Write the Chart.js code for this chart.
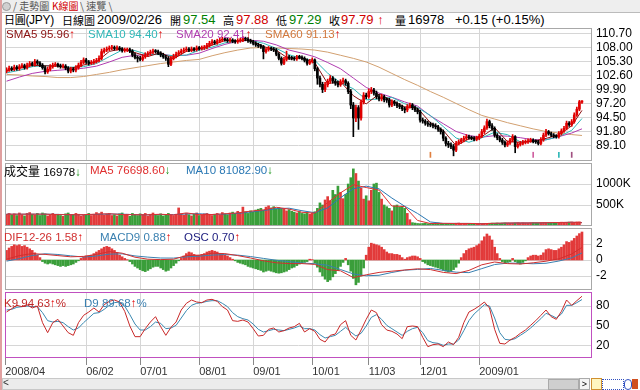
<!DOCTYPE html>
<html>
<head>
<meta charset="utf-8">
<script src="https://cdn.jsdelivr.net/npm/chart.js@4.4.1/dist/chart.umd.min.js"></script>
<style>
  body { margin: 0; width: 640px; height: 390px; overflow: hidden; background: #fff; position: relative;
         font-family: 'Liberation Sans', Arial, 'Noto Sans CJK TC', sans-serif; }
  .abs { position: absolute; white-space: nowrap; }
  canvas { position: absolute; left: 5px; }
  .hd { top: 12px; font-size: 13px; line-height: 15px; }
  .cjk { font-family: 'Noto Sans CJK TC', sans-serif; font-size: 12px; }
  .hd.cjk, .hd .cjk { font-size: 11px; }
  .lg { font-size: 11.5px; line-height: 13px; }
  .tab { top: 0; font-size: 10px; line-height: 12px; color: #555; font-family: 'Noto Sans CJK TC', sans-serif; }
  .up { color: #e00000; font-weight: bold; }
  .dn { color: #109010; font-weight: bold; }
</style>
</head>
<body>
<!-- tab bar -->
<div class="abs" style="left:0;top:0;width:640px;height:12px;background:#eeeeee;border-bottom:1px solid #bbb"></div>
<div class="abs" style="left:2px;top:2px;width:7px;height:7px;border-radius:50%;background:#d0d0d0;border:1px solid #999"></div>
<div class="abs tab" style="left:13px">/ 走勢圖 /</div>
<div class="abs tab" style="left:50px;color:#d00000;background:#fff;padding:0 2px">K線圖</div>
<div class="abs tab" style="left:80px">\ 速覽 \</div>

<!-- header -->
<div class="abs hd" style="left:4px;font-size:12px;letter-spacing:-0.3px"><span class="cjk">日圓</span>(JPY)</div>
<div class="abs hd cjk" style="left:62px;top:13px">日線圖</div>
<div class="abs hd" style="left:97px">2009/02/26</div>
<div class="abs hd cjk" style="left:170px;top:13px">開</div>
<div class="abs hd" style="left:183px;color:#008000">97.54</div>
<div class="abs hd cjk" style="left:223px;top:13px">高</div>
<div class="abs hd" style="left:236px;color:#d00000">97.88</div>
<div class="abs hd cjk" style="left:276px;top:13px">低</div>
<div class="abs hd" style="left:289px;color:#008000">97.29</div>
<div class="abs hd cjk" style="left:329px;top:13px">收</div>
<div class="abs hd" style="left:341px;color:#d00000">97.79 <span class="up">↑</span></div>
<div class="abs hd cjk" style="left:395px;top:13px">量</div>
<div class="abs hd" style="left:408px">16978</div>
<div class="abs hd" style="left:455px">+0.15 (+0.15%)</div>

<canvas id="priceChart" width="635" height="133" style="top:28px;width:635px;height:133px"></canvas>
<canvas id="volumeChart" width="635" height="63" style="top:163px;width:635px;height:63px"></canvas>
<canvas id="macdChart" width="635" height="62" style="top:228px;width:635px;height:62px"></canvas>
<canvas id="kdChart" width="635" height="86" style="top:292px;width:635px;height:86px"></canvas>

<!-- legends -->
<div class="abs lg" style="left:6px;top:28px;color:#8b1010">SMA5 95.96<span class="up">↑</span></div>
<div class="abs lg" style="left:88px;top:28px;color:#30b8b8">SMA10 94.40<span class="up">↑</span></div>
<div class="abs lg" style="left:176px;top:28px;color:#b03cb0">SMA20 92.41<span class="up">↑</span></div>
<div class="abs lg" style="left:265px;top:28px;color:#d2783c">SMA60 91.13<span class="up">↑</span></div>

<div class="abs lg" style="left:4px;top:164px;color:#000"><span class="cjk">成交量</span> 16978<span class="dn">↓</span></div>
<div class="abs lg" style="left:90px;top:164px;color:#e03030">MA5 76698.60<span class="dn">↓</span></div>
<div class="abs lg" style="left:186px;top:164px;color:#2a78b4">MA10 81082.90<span class="dn">↓</span></div>

<div class="abs lg" style="left:4px;top:231px;color:#d03030">DIF12-26 1.58<span class="up">↑</span></div>
<div class="abs lg" style="left:100px;top:231px;color:#3a80b0">MACD9 0.88<span class="up">↑</span></div>
<div class="abs lg" style="left:184px;top:231px;color:#202080">OSC 0.70<span class="up">↑</span></div>

<div class="abs lg" style="left:4px;top:297px;color:#c02828">K9 94.63<span class="up">↑</span>%</div>
<div class="abs lg" style="left:84px;top:297px;color:#3a80b0">D9 89.68<span class="up">↑</span>%</div>

<!-- scrollbar -->
<div class="abs" style="left:2px;top:378px;width:586px;height:10px;background:#ececec;border:1px solid #c8c8c8"></div>
<div class="abs" style="left:3px;top:377px;font-size:10px;line-height:12px;color:#333">&lt;</div>
<div class="abs" style="left:548px;top:379px;width:29px;height:9px;background:#cfcfcf;border:1px solid #aaa"></div>
<div class="abs" style="left:579px;top:378px;width:9px;height:10px;background:#f4f4f4;border:1px solid #aaa;font-size:9px;line-height:10px;text-align:center">&gt;</div>
<div class="abs" style="left:591px;top:378px;width:9px;height:10px;background:#fff6c0;border:1px solid #d09030"></div>
<div class="abs" style="left:602px;top:379px;width:20px;height:9px;border:1px dotted #3050c0"></div>
<div class="abs" style="left:624px;top:379px;width:6px;height:9px;border:1px solid #3050c0;border-radius:4px"></div>
<div class="abs" style="left:632px;top:379px;width:6px;height:10px;background:#d05020"></div>
<div class="abs" style="left:0;top:0;width:2px;height:390px;background:#e0a0a0"></div>

<script>
// 日圓(JPY) 日線圖, 2008/04 ~ 2009/02/26, one entry per trading day
const monthDays = [-0.5, 31, 52, 75, 96, 119, 141, 161, 184];
const monthLabels = ['2008/04', '06/02', '07/01', '08/01', '09/01', '10/01', '11/03', '12/01', '2009/01'];
const priceTicks = [89.10, 91.80, 94.50, 97.20, 99.90, 102.60, 105.30, 108.00, 110.70];
const volumeTicks = [500, 1000];
const macdTicks = [-2, 0, 2];
const kdTicks = [20, 50, 80];

const opens = [
  103.5, 103.8, 104.1, 103.9, 104.3, 104.0, 104.4, 104.6, 104.2, 104.7,
  105.0, 104.8, 105.4, 105.1, 104.7, 104.2, 103.4, 103.9, 104.4, 104.7,
  104.85, 104.6, 104.4, 104.5, 104.1, 103.55, 103.9, 103.75, 104.2, 104.7,
  105.2, 105.7, 105.3, 105.05, 105.2, 105.4, 105.6, 106.0, 107.3, 107.6,
  107.8, 108.0, 108.1, 107.9, 108.0, 107.8, 107.5, 107.6, 107.7, 107.4,
  106.65, 106.2, 106.0, 105.8, 106.3, 106.7, 106.95, 107.2, 107.4, 107.3,
  107.0, 106.65, 106.3, 106.0, 104.85, 106.0, 106.4, 106.8, 107.1, 107.4,
  107.6, 107.8, 107.6, 107.8, 107.7, 108.0, 107.9, 108.0, 108.1, 108.5,
  108.9, 109.2, 109.0, 109.35, 109.5, 109.7, 109.6, 109.4, 109.55, 109.3,
  109.2, 109.4, 109.55, 109.8, 109.7, 109.4, 109.2, 108.9, 108.6, 108.4,
  108.25, 107.3, 107.7, 107.95, 107.8, 107.6, 106.8, 106.0, 105.05, 105.8,
  106.3, 106.1, 106.0, 105.9, 106.3, 106.2, 106.0, 105.6, 105.05, 105.4,
  105.7, 104.0, 102.2, 101.0, 100.0, 100.9, 101.6, 102.2, 101.6, 101.2,
  100.9, 101.5, 101.7, 101.2, 99.6, 97.0, 94.5, 96.5, 94.5, 97.6,
  98.9, 98.6, 99.6, 99.9, 99.3, 98.6, 98.2, 98.6, 98.0, 97.95,
  97.0, 97.6, 97.3, 96.9, 96.7, 96.3, 96.05, 96.7, 97.0, 96.5,
  96.05, 95.7, 94.1, 93.9, 93.5, 93.3, 93.15, 93.0, 92.8, 92.3,
  91.85, 90.6, 89.6, 89.3, 89.0, 88.3, 89.6, 89.9, 90.25, 90.6,
  90.9, 90.7, 90.6, 90.4, 90.6, 91.0, 91.85, 92.6, 93.8, 93.0,
  92.5, 91.2, 90.7, 90.25, 89.8, 89.3, 89.7, 90.25, 90.9, 89.0,
  89.4, 89.6, 89.8, 89.9, 90.1, 90.25, 90.0, 89.9, 89.6, 90.3,
  91.2, 91.85, 91.5, 91.2, 91.0, 90.9, 91.55, 92.0, 92.5, 93.5,
  93.2, 93.8, 95.1, 96.2, 97.54
];
const highs = [
  104.2, 104.5, 104.4, 104.7, 104.6, 104.8, 105.0, 104.9, 105.1, 105.4,
  105.3, 105.8, 105.7, 105.4, 105.0, 104.5, 104.3, 104.8, 105.1, 105.2,
  105.1, 104.9, 104.9, 104.8, 104.4, 104.3, 104.2, 104.6, 105.1, 105.6,
  106.1, 106.0, 105.6, 105.6, 105.8, 106.0, 106.5, 107.8, 108.0, 108.2,
  108.4, 108.5, 108.4, 108.4, 108.3, 108.1, 108.0, 108.0, 108.0, 107.7,
  107.0, 106.5, 106.4, 106.7, 107.1, 107.3, 107.6, 107.8, 107.7, 107.6,
  107.3, 107.0, 106.6, 106.3, 106.4, 106.8, 107.2, 107.5, 107.8, 108.0,
  108.2, 108.1, 108.2, 108.1, 108.4, 108.3, 108.4, 108.5, 108.9, 109.3,
  109.6, 109.5, 109.7, 109.9, 110.1, 110.0, 109.9, 109.9, 109.8, 109.6,
  109.8, 109.9, 110.2, 110.1, 110.0, 109.7, 109.5, 109.2, 108.9, 108.7,
  108.5, 108.0, 108.3, 108.2, 108.1, 107.9, 107.1, 106.3, 106.2, 107.4,
  106.6, 106.4, 106.3, 106.6, 106.6, 106.5, 106.3, 105.9, 105.8, 106.1,
  105.9, 104.3, 102.6, 101.4, 101.4, 102.0, 102.7, 102.5, 102.0, 101.6,
  101.9, 102.2, 102.0, 101.5, 100.0, 97.5, 97.0, 96.9, 98.0, 99.4,
  99.3, 100.1, 100.4, 100.2, 99.7, 99.0, 99.1, 98.9, 98.4, 98.3,
  98.0, 97.9, 97.6, 97.3, 97.0, 96.6, 97.1, 97.4, 97.3, 96.8,
  96.4, 96.0, 94.5, 94.2, 93.9, 93.7, 93.5, 93.4, 93.1, 92.6,
  92.2, 90.9, 90.0, 89.7, 89.4, 90.0, 90.3, 90.6, 91.0, 91.3,
  91.2, 91.0, 90.9, 91.0, 91.4, 92.3, 93.0, 94.3, 94.1, 93.4,
  92.8, 91.5, 91.0, 90.6, 90.1, 90.1, 90.6, 91.3, 91.1, 89.8,
  90.0, 90.2, 90.3, 90.5, 90.6, 90.5, 90.3, 90.2, 90.7, 91.6,
  92.3, 92.1, 91.8, 91.5, 91.3, 91.9, 92.4, 92.9, 93.9, 93.8,
  94.2, 95.5, 96.6, 97.9, 97.88
];
const lows = [
  103.2, 103.5, 103.6, 103.6, 103.7, 103.7, 104.1, 103.9, 103.9, 104.4,
  104.5, 104.5, 104.8, 104.4, 103.9, 103.0, 103.1, 103.6, 104.1, 104.4,
  104.3, 104.1, 104.1, 103.8, 103.2, 103.2, 103.4, 103.4, 103.9, 104.4,
  104.9, 105.0, 104.7, 104.8, 104.9, 105.1, 105.3, 105.7, 107.0, 107.3,
  107.5, 107.7, 107.6, 107.6, 107.5, 107.2, 107.2, 107.3, 107.1, 106.3,
  105.9, 105.3, 105.5, 105.5, 106.0, 106.4, 106.6, 106.9, 107.0, 106.7,
  106.3, 106.0, 105.6, 104.4, 104.6, 105.7, 106.1, 106.5, 106.8, 107.1,
  107.3, 107.3, 107.3, 107.4, 107.4, 107.6, 107.6, 107.7, 107.8, 108.2,
  108.6, 108.7, 108.7, 109.0, 109.2, 109.3, 109.1, 109.1, 109.0, 108.9,
  108.9, 109.1, 109.2, 109.4, 109.1, 108.9, 108.6, 108.3, 108.1, 107.9,
  105.9, 107.0, 107.4, 107.5, 107.3, 106.5, 105.7, 104.7, 104.8, 105.5,
  105.8, 105.7, 105.6, 105.6, 105.9, 105.7, 105.3, 104.7, 104.8, 105.1,
  103.6, 101.0, 100.5, 99.4, 99.6, 100.5, 101.2, 101.2, 100.8, 100.5,
  100.6, 101.1, 100.8, 99.2, 96.3, 90.9, 93.8, 92.3, 94.1, 97.2,
  98.2, 98.3, 99.2, 98.9, 98.2, 97.8, 97.8, 97.6, 97.5, 96.6,
  96.7, 96.9, 96.5, 96.3, 95.9, 95.5, 95.7, 96.4, 96.1, 95.7,
  95.3, 93.7, 93.5, 93.1, 92.9, 92.8, 92.6, 92.4, 91.9, 91.4,
  90.1, 89.1, 88.8, 88.6, 87.2, 88.0, 89.3, 89.6, 89.9, 90.3,
  90.4, 90.3, 90.1, 90.1, 90.3, 90.7, 91.5, 92.3, 92.6, 92.1,
  90.8, 90.3, 89.9, 89.4, 88.9, 89.0, 89.4, 89.9, 87.8, 88.7,
  89.1, 89.3, 89.5, 89.6, 89.8, 89.7, 89.6, 89.3, 89.3, 90.0,
  90.9, 91.2, 90.9, 90.7, 90.6, 90.6, 91.2, 91.7, 92.2, 92.9,
  92.9, 93.5, 94.8, 95.9, 97.29
];
const closes = [
  103.8, 104.1, 103.9, 104.3, 104.0, 104.4, 104.6, 104.2, 104.7, 105.0,
  104.8, 105.4, 105.1, 104.7, 104.2, 103.4, 103.9, 104.4, 104.7, 104.85,
  104.6, 104.4, 104.5, 104.1, 103.55, 103.9, 103.75, 104.2, 104.7, 105.2,
  105.7, 105.3, 105.05, 105.2, 105.4, 105.6, 106.0, 107.3, 107.6, 107.8,
  108.0, 108.1, 107.9, 108.0, 107.8, 107.5, 107.6, 107.7, 107.4, 106.65,
  106.2, 106.0, 105.8, 106.3, 106.7, 106.95, 107.2, 107.4, 107.3, 107.0,
  106.65, 106.3, 106.0, 104.85, 106.0, 106.4, 106.8, 107.1, 107.4, 107.6,
  107.8, 107.6, 107.8, 107.7, 108.0, 107.9, 108.0, 108.1, 108.5, 108.9,
  109.2, 109.0, 109.35, 109.5, 109.7, 109.6, 109.4, 109.55, 109.3, 109.2,
  109.4, 109.55, 109.8, 109.7, 109.4, 109.2, 108.9, 108.6, 108.4, 108.25,
  107.3, 107.7, 107.95, 107.8, 107.6, 106.8, 106.0, 105.05, 105.8, 106.3,
  106.1, 106.0, 105.9, 106.3, 106.2, 106.0, 105.6, 105.05, 105.4, 105.7,
  104.0, 102.2, 101.0, 100.0, 100.9, 101.6, 102.2, 101.6, 101.2, 100.9,
  101.5, 101.7, 101.2, 99.6, 97.0, 94.5, 96.5, 94.5, 97.6, 98.9,
  98.6, 99.6, 99.9, 99.3, 98.6, 98.2, 98.6, 98.0, 97.95, 97.0,
  97.6, 97.3, 96.9, 96.7, 96.3, 96.05, 96.7, 97.0, 96.5, 96.05,
  95.7, 94.1, 93.9, 93.5, 93.3, 93.15, 93.0, 92.8, 92.3, 91.85,
  90.6, 89.6, 89.3, 89.0, 88.3, 89.6, 89.9, 90.25, 90.6, 90.9,
  90.7, 90.6, 90.4, 90.6, 91.0, 91.85, 92.6, 93.8, 93.0, 92.5,
  91.2, 90.7, 90.25, 89.8, 89.3, 89.7, 90.25, 90.9, 89.0, 89.4,
  89.6, 89.8, 89.9, 90.1, 90.25, 90.0, 89.9, 89.6, 90.3, 91.2,
  91.85, 91.5, 91.2, 91.0, 90.9, 91.55, 92.0, 92.5, 93.5, 93.2,
  93.8, 95.1, 96.2, 97.64, 97.79
];
// volume in K
const volumes = [
  280, 300, 260, 290, 250, 310, 270, 240, 300, 320, 280, 260, 300, 250, 310, 290, 240, 270, 300, 260,
  280, 250, 230, 290, 310, 270, 260, 300, 280, 240, 270,
  260, 300, 250, 280, 320, 290, 330, 260, 280, 300, 250, 270, 240, 290, 310, 260, 280, 230, 300, 270,
  250, 290, 260, 300, 240, 280, 310, 270, 250, 290,
  240, 260, 300, 270, 250, 280, 430, 290, 260, 300, 270, 240, 280, 310, 250, 260, 290, 300, 270, 250,
  280, 300, 260, 320, 290, 270, 310, 330, 300, 350,
  320, 450, 340, 300, 360, 330, 380, 400, 420, 380, 450, 480, 430, 460, 410, 440, 420, 400, 360, 390,
  350, 330, 310, 340, 300, 290, 320, 280, 300, 340,
  420, 550, 500, 620, 700, 600, 850, 750, 950, 800, 650, 750, 1000, 1150, 1360, 1250, 1070, 900, 640, 720,
  600, 850, 1000, 1020, 800, 640, 500, 460, 420, 360,
  480, 500, 450, 470, 420, 300, 150, 80, 70, 60, 55, 60, 65, 55, 60, 58, 62, 70, 65, 60,
  55, 58, 62, 60, 65, 70, 62, 58, 60, 55, 52, 58, 50, 55, 60, 62, 58, 65, 70, 68,
  72, 66, 70, 75, 72, 68, 70, 74, 78, 72, 76, 70, 68, 74, 80, 76, 72, 78, 82, 80,
  76, 84, 88, 86, 82, 90, 85, 88, 92, 95, 90, 98, 100, 17
];

// small cross signals under the candles
const signalDays = [165, 205, 215, 220];
const signalColors = ['#e08040', '#d060a0', '#30b8b8', '#a05080'];

// moving averages read every 5 days
const lineDays = [0, 5, 10, 15, 20, 25, 30, 35, 40, 45, 50, 55, 60, 65, 70, 75, 80, 85, 90, 95, 100, 105, 110, 115, 120,
  125, 130, 135, 140, 145, 150, 155, 160, 165, 170, 175, 180, 185, 190, 195, 200, 205, 210, 215, 220, 224];
const sma5 = [103.6, 104.14, 104.66, 104.56, 104.49, 104.09, 104.71, 105.31, 107.34, 107.86, 107.11, 106.35, 107.11,
  105.91, 107.34, 107.8, 108.54, 109.43, 109.37, 109.53, 108.29, 107.57, 105.85, 106.08, 105.15, 101.14, 101.48,
  98.8, 97.22, 99.12, 97.83, 96.65, 96.39, 93.59, 92.11, 89.16, 90.47, 90.89, 92.62, 89.95, 89.83, 90.01, 90.57,
  91.23, 93.0, 95.96];
const sma10 = [103.2, 103.7, 104.4, 104.61, 104.53, 104.29, 104.4, 105.01, 106.33, 107.6, 107.49, 106.73, 106.73,
  106.51, 106.63, 107.57, 108.17, 108.99, 109.4, 109.45, 108.91, 107.93, 106.71, 105.97, 105.62, 103.15, 101.31,
  100.14, 98.01, 98.17, 98.48, 97.24, 96.52, 94.99, 92.85, 90.64, 89.82, 90.68, 91.76, 91.29, 89.89, 89.92, 90.29,
  90.9, 92.12, 94.40];
const sma20 = [101.6, 102.4, 103.1, 103.5, 103.7, 103.9, 104.1, 104.5, 105.3, 106.2, 106.6, 106.7, 106.8, 106.5,
  106.6, 107.0, 107.9, 108.7, 109.3, 109.5, 109.3, 108.6, 107.6, 107.0, 106.3, 105.2, 104.0, 102.2, 100.4, 99.3,
  98.5, 97.6, 96.8, 94.9, 93.4, 91.9, 91.1, 90.8, 91.1, 91.0, 90.7, 90.3, 90.3, 90.9, 91.6, 92.41];
const sma60 = [102.9, 102.8, 102.6, 102.5, 102.3, 102.3, 102.5, 102.9, 103.3, 103.8, 104.2, 104.6, 105.0, 105.3,
  105.6, 105.8, 106.5, 107.1, 107.6, 108.0, 108.1, 108.0, 107.9, 107.8, 107.6, 107.2, 106.6, 106.0, 105.3, 104.3,
  103.1, 101.9, 100.8, 99.6, 98.5, 97.3, 96.1, 95.0, 94.3, 93.6, 93.0, 92.4, 91.9, 91.6, 91.3, 91.13];
const volMa5 = [280, 282, 282, 282, 270, 270, 270, 282, 292, 272, 268, 268, 280, 264, 312, 270, 274, 290, 312, 354,
  382, 446, 402, 326, 306, 558, 790, 982, 916, 854, 476, 464, 132, 59, 63, 60, 61, 55, 65, 71, 72, 74, 78, 83, 90, 76.7];
const volMa10 = [280, 281, 282, 282, 276, 270, 270, 276, 287, 282, 270, 268, 274, 272, 288, 291, 272, 282, 301, 333,
  368, 414, 424, 364, 316, 432, 674, 886, 949, 885, 665, 470, 298, 96, 61, 62, 61, 58, 60, 68, 72, 73, 76, 81, 87, 81.1];
const dif = [0.10, 0.55, 0.80, 0.70, 0.55, 0.40, 0.45, 0.70, 1.05, 0.85, 0.35, 0.10, 0.05, 0.10, 0.55, 0.60, 0.85,
  0.80, 0.55, 0.25, -0.10, -0.35, -0.45, -0.45, -0.55, -1.20, -1.35, -2.20, -1.85, -1.55, -1.40, -1.25, -1.10,
  -1.20, -1.55, -1.70, -1.30, -0.60, -0.25, -0.45, -0.50, -0.35, -0.15, 0.15, 0.75, 1.58];
const macd9 = [-0.14, 0.17, 0.56, 0.78, 0.69, 0.52, 0.37, 0.50, 0.73, 0.77, 0.51, 0.36, 0.25, 0.24, 0.39, 0.48, 0.61,
  0.68, 0.61, 0.43, 0.20, -0.03, -0.21, -0.37, -0.47, -0.66, -1.19, -1.74, -1.97, -1.91, -1.56, -1.27, -1.18,
  -1.06, -1.29, -1.52, -1.58, -1.08, -0.57, -0.39, -0.40, -0.47, -0.41, -0.13, 0.27, 0.88];
// OSC per day
const osc = [
  0.24, 0.30, 0.34, 0.38, 0.36, 0.38, 0.34, 0.36, 0.32, 0.28, 0.24, 0.18, 0.12, 0.06,
  -0.04, -0.08, -0.10, -0.08, -0.10, -0.12, -0.14, -0.16, -0.14, -0.16, -0.14, -0.12, -0.10, -0.06, -0.02,
  0.04, 0.08, 0.10, 0.10, 0.12, 0.16, 0.20, 0.24, 0.28, 0.32, 0.34, 0.32, 0.28, 0.24, 0.18, 0.12, 0.08,
  0.04, 0.01,
  -0.04, -0.10, -0.16, -0.20, -0.24, -0.27, -0.29, -0.26, -0.22, -0.18, -0.16, -0.16, -0.20, -0.24, -0.28, -0.26,
  -0.20, -0.14, -0.08, -0.02,
  0.04, 0.10, 0.16, 0.20, 0.18, 0.14, 0.12, 0.12, 0.14, 0.16, 0.20, 0.22, 0.24, 0.22, 0.20, 0.16, 0.14, 0.12,
  0.10, 0.06, 0.02,
  -0.02, -0.06, -0.08, -0.10, -0.12, -0.16, -0.18, -0.20, -0.22, -0.24, -0.26, -0.30, -0.28, -0.26, -0.28, -0.30,
  -0.32, -0.33, -0.32, -0.30, -0.28, -0.24, -0.20, -0.18, -0.14, -0.10, -0.08, -0.06, -0.04, 0.02,
  0.01,
  -0.08, -0.18, -0.30, -0.40, -0.48, -0.54, -0.50, -0.42, -0.34, -0.26, -0.16, -0.06,
  0.04,
  -0.12, -0.28, -0.46, -0.62, -0.56, -0.40, -0.20,
  0.12, 0.32, 0.42, 0.40, 0.38, 0.36, 0.32, 0.26, 0.20, 0.16, 0.16, 0.14, 0.14, 0.12, 0.06,
  0.02, 0.06, 0.08, 0.10, 0.10, 0.08, 0.04,
  -0.04, -0.08, -0.12, -0.14, -0.16, -0.18, -0.20, -0.22, -0.26, -0.28, -0.30, -0.28, -0.24, -0.18, -0.08,
  0.06, 0.16, 0.24, 0.28, 0.30, 0.32, 0.36, 0.40, 0.48, 0.58, 0.65, 0.60, 0.50, 0.32, 0.16,
  0.04, -0.04, -0.08, -0.06, -0.04, 0.04, -0.04, -0.08, -0.10, -0.06, -0.02,
  0.06, 0.10, 0.12, 0.12, 0.10, 0.12, 0.18, 0.26, 0.28, 0.26, 0.24, 0.24, 0.28, 0.32, 0.38, 0.46, 0.44, 0.48,
  0.54, 0.60, 0.66, 0.70
];

// KD read every 2 days
const kdDays = [0, 2, 4, 6, 8, 10, 12, 14, 16, 18, 20, 22, 24, 26, 28, 30, 32, 34, 36, 38, 40, 42, 44, 46, 48, 50,
  52, 54, 56, 58, 60, 62, 64, 66, 68, 70, 72, 74, 76, 78, 80, 82, 84, 86, 88, 90, 92, 94, 96, 98, 100, 102, 104,
  106, 108, 110, 112, 114, 116, 118, 120, 122, 124, 126, 128, 130, 132, 134, 136, 138, 140, 142, 144, 146, 148,
  150, 152, 154, 156, 158, 160, 162, 164, 166, 168, 170, 172, 174, 176, 178, 180, 182, 184, 186, 188, 190, 192,
  194, 196, 198, 200, 202, 204, 206, 208, 210, 212, 214, 216, 218, 220, 222, 224];
const k9 = [71, 76, 81, 79, 82, 77, 80, 55, 40, 55, 60, 50, 40, 36, 55, 66, 71, 77, 71, 82,
  87, 89, 86, 72, 50, 34, 34, 46, 56, 64, 49, 36, 48, 56, 74, 84, 89, 86, 85, 89,
  90, 87, 79, 74, 58, 57, 59, 56, 46, 35, 36, 45, 47, 41, 43, 47, 49, 54, 41, 46,
  42, 30, 26, 36, 38, 52, 58, 36, 29, 44, 60, 74, 70, 52, 44, 42, 38, 31, 49, 50,
  49, 33, 19, 22, 23, 19, 26, 22, 33, 55, 71, 75, 80, 86, 77, 45, 24, 23, 29, 33,
  39, 44, 51, 58, 66, 74, 64, 60, 72, 89, 81, 88, 94.63];
const d9 = [74, 75, 78, 79, 80, 79, 79, 70, 58, 56, 57, 55, 49, 44, 47, 55, 62, 69, 70, 75,
  81, 85, 86, 80, 67, 53, 44, 44, 49, 56, 54, 46, 47, 51, 62, 73, 81, 84, 85, 87,
  88, 88, 84, 79, 70, 64, 61, 59, 53, 45, 41, 43, 45, 44, 43, 45, 47, 50, 46, 46,
  44, 37, 32, 34, 36, 42, 48, 41, 35, 39, 50, 63, 67, 60, 51, 46, 41, 36, 42, 46,
  48, 40, 28, 25, 24, 21, 23, 23, 29, 43, 58, 68, 75, 82, 80, 62, 40, 30, 29, 31,
  36, 41, 47, 54, 61, 69, 66, 62, 68, 81, 81, 85, 89.68];

Chart.defaults.font.family = "'Liberation Sans', Arial, sans-serif";
Chart.defaults.font.size = 12;
Chart.defaults.color = '#000';

const gridColor = '#d6d6d6';
const upColor = '#e00000';
const downColor = '#000000';
const candleColors = closes.map((c, i) => c >= opens[i] ? upColor : downColor);
const volColors = closes.map((c, i) => c >= opens[i] ? '#e23a3a' : '#3a9e3a');
const oscColors = osc.map(v => v >= 0 ? '#e23a3a' : '#3a9e3a');

// draws the box around each panel
const framePlugin = {
  id: 'frame',
  afterDatasetsDraw(chart, args, opts) {
    const a = chart.chartArea;
    const ctx = chart.ctx;
    ctx.save();
    ctx.strokeStyle = opts.color || '#a8a8a8';
    ctx.lineWidth = 1;
    ctx.strokeRect(a.left + 0.5, a.top + 0.5, a.right - a.left - 1, a.bottom - a.top - 1);
    ctx.restore();
  }
};

function xAxis(showLabels) {
  return {
    type: 'linear', min: -0.6, max: 227.9, offset: false,
    afterBuildTicks: s => { s.ticks = monthDays.map(v => ({ value: v })); },
    grid: { color: gridColor, offset: false, drawTicks: showLabels, tickLength: 7, tickColor: '#888' },
    border: { display: false },
    ticks: {
      display: showLabels, autoSkip: false, maxRotation: 0, align: 'start', padding: 0,
      font: { size: 11 }, color: '#333',
      callback: (v, i) => monthLabels[i]
    },
    afterFit: s => { s.height = showLabels ? 20 : 0; s.paddingLeft = 0; s.paddingRight = 0; }
  };
}

function yAxis(min, max, ticks, fmt) {
  return {
    position: 'right', min: min, max: max, beginAtZero: false,
    afterBuildTicks: s => { s.ticks = ticks.map(v => ({ value: v })); },
    grid: { color: gridColor, drawTicks: false },
    border: { display: false },
    ticks: { padding: 4, autoSkip: false, callback: fmt },
    afterFit: s => { s.width = 48; s.paddingTop = 0; s.paddingBottom = 0; }
  };
}

function lineSet(days, values, color, axis) {
  return {
    type: 'line', data: days.map((d, i) => ({ x: d, y: values[i] })),
    borderColor: color, borderWidth: 1, pointRadius: 0, fill: false, tension: 0, yAxisID: axis || 'y'
  };
}

function options(scales, frameColor) {
  return {
    responsive: false, animation: false, events: [],
    layout: { padding: 0 },
    plugins: { legend: { display: false }, tooltip: { enabled: false }, frame: { color: frameColor } },
    scales: scales
  };
}

// 價格 K 線
new Chart(document.getElementById('priceChart').getContext('2d'), {
  type: 'bar',
  data: {
    datasets: [
      { data: closes.map((c, i) => ({ x: i, y: [opens[i], c] })), backgroundColor: candleColors,
        barThickness: 2, minBarLength: 1, grouped: false },
      { data: closes.map((c, i) => ({ x: i, y: [lows[i], highs[i]] })), backgroundColor: candleColors,
        barThickness: 1, grouped: false },
      { data: signalDays.map(d => ({ x: d, y: [86.9, 87.9] })), backgroundColor: signalColors,
        barThickness: 1, grouped: false },
      lineSet(lineDays, sma5, '#8b1010'),
      lineSet(lineDays, sma10, '#30b8b8'),
      lineSet(lineDays, sma20, '#b03cb0'),
      lineSet(lineDays, sma60, '#d2a070')
    ]
  },
  options: options({ x: xAxis(false), y: yAxis(86.207, 111.857, priceTicks, v => v.toFixed(2)) }),
  plugins: [framePlugin]
});

// 成交量
new Chart(document.getElementById('volumeChart').getContext('2d'), {
  type: 'bar',
  data: {
    datasets: [
      lineSet(lineDays, volMa5, '#e03030'),
      lineSet(lineDays, volMa10, '#2a78b4'),
      { data: volumes.map((v, i) => ({ x: i, y: v })), backgroundColor: volColors, barThickness: 2, grouped: false }
    ]
  },
  options: options({ x: xAxis(false), y: yAxis(0, 1500, volumeTicks, v => v + 'K') }),
  plugins: [framePlugin]
});

// MACD
new Chart(document.getElementById('macdChart').getContext('2d'), {
  type: 'bar',
  data: {
    datasets: [
      lineSet(lineDays, dif, '#d03030'),
      lineSet(lineDays, macd9, '#3a80b0'),
      { data: osc.map((v, i) => ({ x: i, y: v })), backgroundColor: oscColors, barThickness: 2,
        grouped: false, yAxisID: 'yOsc' }
    ]
  },
  options: options({
    x: xAxis(false),
    y: yAxis(-3.75, 4, macdTicks, v => String(v)),
    yOsc: { display: false, min: -0.75, max: 0.8 }
  }),
  plugins: [framePlugin]
});

// KD
new Chart(document.getElementById('kdChart').getContext('2d'), {
  type: 'line',
  data: {
    datasets: [
      lineSet(kdDays, k9, '#c82828'),
      lineSet(kdDays, d9, '#3a88b0')
    ]
  },
  options: options({ x: xAxis(true), y: yAxis(2, 101, kdTicks, v => String(v)) }, '#c050c0'),
  plugins: [framePlugin]
});
</script>
</body>
</html>
